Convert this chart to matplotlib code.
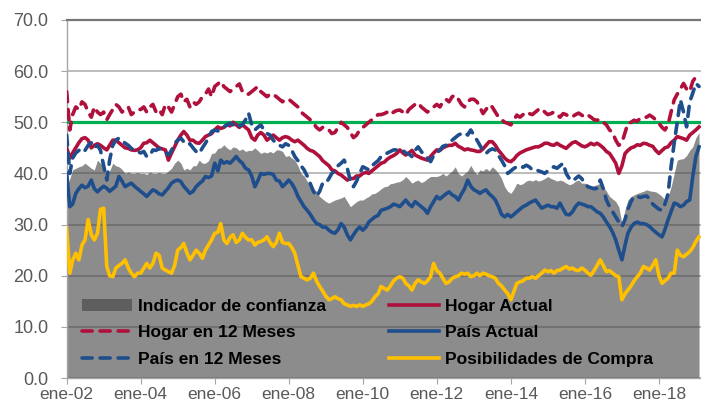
import matplotlib
matplotlib.use("Agg")
import matplotlib.pyplot as plt
import matplotlib.dates as mdates
from matplotlib.patches import Patch
from matplotlib.lines import Line2D
import pandas as pd

plt.rcParams['font.family'] = ['Liberation Sans', 'DejaVu Sans']

# monthly, ene-02 .. feb-19
meses = pd.date_range('2002-01-01', periods=206, freq='MS')

indicador = [
    37.4, 39.0, 40.7, 41.0, 41.3, 41.5, 42.0, 41.5, 41.0, 40.7, 42.6, 42.0,
    41.0, 39.7, 40.5, 42.0, 41.5, 41.3, 40.8, 40.0, 40.3, 40.0, 40.0, 40.2,
    40.0, 40.0, 39.8, 40.3, 40.0, 40.0, 40.2, 40.0, 40.0, 40.5, 41.0, 42.0,
    42.6, 42.0, 40.7, 41.0, 40.7, 41.5, 41.5, 42.6, 42.0, 42.0, 42.5, 43.9,
    44.0, 44.9, 45.0, 45.6, 45.0, 44.6, 45.2, 45.0, 44.5, 44.8, 44.3, 44.5,
    44.5, 45.0, 44.5, 43.9, 44.2, 44.0, 44.3, 44.0, 44.6, 44.6, 44.3, 43.3,
    43.5, 43.0, 42.6, 41.5, 40.0, 39.5, 38.5, 37.4, 37.0, 36.5, 35.5, 35.0,
    34.5, 34.2, 34.5, 34.8, 35.0, 35.2, 35.5, 34.5, 33.5, 34.0, 34.5, 34.8,
    34.8, 35.2, 35.5, 36.0, 36.1, 36.5, 37.0, 37.4, 37.5, 38.0, 38.1, 38.3,
    38.4, 38.8, 39.4, 38.8, 38.1, 38.5, 38.7, 38.2, 38.5, 39.0, 39.4, 39.4,
    39.4, 39.6, 40.0, 39.5, 40.0, 40.5, 41.3, 40.0, 39.5, 40.0, 40.5, 41.6,
    40.5, 39.8, 40.7, 40.5, 41.0, 40.5, 41.3, 40.8, 40.0, 39.0, 37.4, 36.5,
    36.1, 37.0, 38.1, 37.8, 38.0, 38.5, 38.7, 38.5, 38.8, 38.5, 38.7, 39.0,
    39.4, 39.0, 38.8, 38.5, 38.7, 38.5, 38.1, 37.8, 38.0, 38.5, 38.7, 38.1,
    38.1, 37.8, 37.4, 37.6, 37.8, 38.1, 37.5, 36.5, 35.5, 35.0, 34.5, 33.5,
    30.2, 33.0, 34.8, 35.5, 35.8, 36.1, 36.3, 36.5, 36.8, 36.6, 36.5, 36.4,
    36.0, 35.5, 34.8, 35.5, 37.4, 40.0, 42.6, 42.8, 42.9, 43.5, 44.5, 45.2,
    47.0, 48.0,
]

hogar_12m = [
    56.0, 48.5, 51.5, 53.0, 52.5, 54.0, 53.5, 52.0, 51.0, 53.0, 52.0, 51.5,
    52.0, 50.5, 51.5, 52.5, 53.5, 53.0, 52.0, 52.5, 53.0, 51.5, 52.0, 52.5,
    52.5, 53.0, 52.0, 53.0, 53.5, 52.0, 52.5, 51.5, 53.5, 53.0, 52.0, 53.5,
    55.0, 55.5, 54.0, 54.5, 53.0, 54.0, 53.5, 54.0, 55.0, 55.5, 56.5, 55.0,
    57.0, 57.5, 58.0, 57.0, 56.5, 56.0, 56.5, 57.0, 57.5, 56.0, 55.5, 55.5,
    56.0, 56.5, 57.0, 56.0, 55.5, 55.0, 55.5, 55.5, 55.0, 54.5, 54.0, 54.5,
    54.5, 54.0, 53.5, 53.0, 52.0, 51.5, 51.0, 50.5, 49.8, 49.0, 48.5, 49.0,
    49.0, 48.5, 47.8, 48.0, 49.0, 50.0, 49.5, 49.0, 48.0, 47.0, 47.5, 48.5,
    49.0, 49.5, 50.0, 50.5, 51.0, 51.5, 51.5, 51.7, 52.0, 51.5, 52.0, 52.3,
    52.4, 52.0, 51.5, 52.5, 53.0, 53.5, 53.8, 53.0, 52.5, 52.0, 52.5, 53.0,
    53.5, 53.0, 54.0, 54.5, 54.0, 55.0, 55.3, 54.5, 53.5, 53.0, 54.0, 54.5,
    54.5, 54.0, 53.0, 51.7, 52.5, 53.4, 53.0, 52.0, 51.0, 50.5, 50.0, 49.8,
    49.5, 50.5, 51.4, 51.0, 51.5, 52.0, 51.7, 51.5, 52.0, 52.5, 52.7, 52.0,
    51.5, 51.7, 52.0, 51.5, 51.0, 51.7, 51.5, 51.0, 51.1, 51.5, 51.8, 51.4,
    51.0, 51.4, 51.0, 50.5, 50.4, 50.6, 50.0, 49.5, 48.5, 48.0, 46.5, 45.5,
    46.0, 48.0, 49.8, 50.0, 50.4, 50.2, 50.8, 51.0, 51.0, 51.4, 51.0, 50.5,
    49.8, 49.0, 48.5, 49.5, 52.0, 54.4, 55.5, 56.5, 57.6, 56.5, 56.0, 58.0,
    58.9, 59.6,
]

pais_12m = [
    47.5, 40.0, 43.0, 44.0, 44.5, 45.0, 44.5, 45.5, 46.0, 45.0, 45.5, 44.5,
    41.5, 38.7, 42.6, 45.5, 46.5, 46.9, 46.5, 45.9, 45.5, 44.9, 44.5, 44.3,
    44.0, 44.3, 43.3, 43.5, 44.6, 44.5, 44.9, 44.5, 44.2, 43.6, 44.5, 45.9,
    46.5, 46.9, 46.2, 45.6, 45.8, 45.0, 44.3, 43.9, 45.0, 45.9, 47.0, 48.2,
    48.5, 48.3, 48.8, 49.1, 49.5, 49.8, 49.5, 50.0, 49.3, 49.5, 50.5, 51.8,
    49.5, 48.5, 49.0, 49.5, 48.5, 47.8, 47.5, 46.5, 45.9, 45.5, 45.2, 45.8,
    45.5, 44.5, 43.3, 42.5, 41.5, 40.7, 39.5, 38.0, 36.5, 35.5, 36.5, 38.1,
    38.1, 39.0, 40.0, 40.5, 41.5, 42.0, 42.6, 41.0, 38.5, 37.4, 38.5, 40.0,
    41.3, 41.0, 40.7, 41.5, 42.0, 42.5, 43.3, 43.5, 44.0, 44.3, 44.6, 44.6,
    44.6, 44.5, 44.0, 43.8, 43.3, 44.5, 45.2, 44.3, 43.5, 43.0, 42.3, 43.5,
    44.0, 44.6, 45.3, 45.5, 46.2, 46.5, 47.0, 47.5, 47.8, 48.0, 47.5, 48.5,
    47.5, 46.5, 45.5, 44.5, 43.9, 44.5, 44.8, 44.6, 43.5, 42.6, 41.5, 40.0,
    40.5, 41.0, 41.3, 41.5, 41.2, 41.6, 41.3, 40.7, 40.8, 40.5, 40.3, 40.0,
    40.5, 41.0, 41.3, 41.0, 41.5, 42.0, 40.0, 39.0, 38.5, 39.0, 39.5, 39.0,
    38.0, 37.4, 37.2, 37.0, 37.1, 38.7, 37.0, 34.8, 33.5, 32.5, 31.5, 30.5,
    29.6, 31.0, 33.0, 34.5, 35.5, 35.5, 35.3, 35.5, 35.6, 35.0, 34.0, 33.5,
    33.0, 32.8, 34.0, 36.0, 41.3, 46.0, 50.0, 54.4, 52.0, 49.1, 54.0, 55.7,
    57.6, 57.0,
]

hogar_actual = [
    45.0, 43.0, 44.0, 45.0, 46.0, 46.8, 47.0, 46.5, 45.0, 45.5, 45.8, 45.5,
    45.0, 44.6, 45.5, 46.5, 46.5, 46.0, 45.5, 45.0, 44.9, 44.6, 44.5, 44.6,
    45.0, 45.9, 46.0, 46.5, 46.0, 45.5, 45.0, 44.8, 44.6, 42.6, 44.0, 45.2,
    46.5, 47.5, 48.2, 47.5, 46.5, 46.5, 46.0, 45.9, 46.5, 47.2, 47.5, 47.8,
    48.5, 49.1, 48.8, 49.0, 49.5, 49.3, 50.0, 49.5, 49.0, 49.5, 49.0, 48.5,
    47.0, 46.5, 47.5, 48.0, 47.5, 46.5, 47.0, 47.5, 47.0, 46.5, 47.0, 47.2,
    47.0, 46.5, 46.2, 46.5, 46.0, 45.5, 44.9, 44.5, 44.3, 43.8, 43.3, 42.5,
    42.0, 41.5, 40.7, 40.5, 40.0, 39.7, 39.2, 38.7, 39.0, 39.0, 39.5, 39.5,
    40.0, 40.2, 40.0, 40.5, 41.0, 41.5, 42.0, 42.2, 42.8, 43.2, 43.5, 43.9,
    44.6, 44.0, 43.6, 44.0, 44.5, 43.6, 43.3, 43.0, 42.8, 42.6, 43.3, 44.0,
    44.6, 44.5, 45.0, 45.3, 45.5, 45.5, 45.9, 45.3, 45.0, 44.6, 44.8, 44.6,
    44.5, 44.3, 44.3, 44.8, 45.5, 46.2, 46.2, 45.5, 44.5, 43.8, 43.0, 42.5,
    42.3, 42.8, 43.5, 44.0, 44.3, 44.6, 44.8, 45.0, 45.2, 45.2, 45.5, 45.9,
    45.9, 45.6, 45.5, 45.9, 45.5, 45.2, 44.9, 45.5, 46.0, 46.2, 45.8, 45.4,
    45.2, 45.5, 45.9, 45.6, 45.9, 45.5, 45.0, 44.3, 43.9, 43.0, 42.0, 40.0,
    41.5, 43.9, 44.5, 45.0, 45.2, 45.6, 45.5, 45.9, 45.8, 45.5, 45.3, 44.5,
    43.9, 44.5, 45.0, 45.2, 46.0, 46.5, 47.2, 47.0, 46.8, 46.5, 47.5, 48.0,
    48.5, 49.1,
]

pais_actual = [
    40.0, 33.5, 34.0, 36.1, 37.0, 37.7, 37.2, 37.5, 38.7, 37.0, 36.4, 37.0,
    37.5, 37.1, 36.5, 37.0, 37.5, 39.4, 38.5, 37.4, 37.8, 38.1, 37.5, 37.0,
    36.5, 36.0, 35.5, 36.2, 36.8, 36.5, 36.0, 35.8, 36.5, 37.2, 38.1, 38.5,
    38.7, 38.4, 37.5, 36.8, 36.1, 36.5, 37.4, 38.0, 38.5, 39.4, 39.2, 39.5,
    42.0, 40.5, 42.6, 42.0, 42.3, 42.0, 42.6, 43.3, 42.5, 42.0, 41.0, 40.7,
    39.5, 37.4, 38.5, 40.0, 39.8, 40.0, 40.0, 39.8, 38.7, 38.5, 37.4, 38.0,
    38.7, 38.0, 37.0, 35.5, 34.5, 33.5, 32.8, 32.0, 31.0, 30.2, 30.0, 29.5,
    29.5, 28.9, 28.5, 28.3, 29.0, 30.2, 29.5, 28.0, 27.0, 28.0, 28.9, 29.5,
    28.9, 29.5, 30.5, 31.0, 31.5, 31.8, 32.8, 33.0, 33.2, 33.5, 34.0, 33.8,
    33.5, 34.2, 34.8, 34.0, 33.5, 34.5, 34.0, 33.5, 33.0, 32.2, 33.5, 34.5,
    35.5, 35.0, 35.5, 36.0, 36.4, 35.8, 35.5, 34.8, 36.0, 37.0, 38.7, 37.5,
    36.8, 36.5, 36.1, 36.5, 36.8, 36.0, 35.5, 34.8, 33.5, 32.0, 31.5, 32.0,
    31.5, 32.0, 32.5, 33.0, 33.5, 33.8, 34.2, 34.5, 34.8, 34.0, 33.2, 33.5,
    33.8, 33.5, 33.5, 33.2, 34.2, 33.0, 32.0, 31.9, 32.5, 33.5, 34.2, 34.0,
    33.8, 33.5, 33.5, 33.0, 32.5, 32.2, 31.5, 30.5, 29.6, 28.5, 27.0, 25.0,
    23.1, 26.0, 28.3, 29.5, 30.2, 30.5, 30.2, 30.2, 30.0, 29.6, 29.0, 28.5,
    28.0, 27.6, 29.0, 30.9, 32.5, 34.2, 34.0, 33.5, 33.8, 34.5, 34.8, 39.4,
    43.3, 45.2,
]

posib_compra = [
    29.3, 20.5, 23.0, 24.4, 23.1, 26.0, 27.0, 31.0, 28.0, 27.0, 28.3, 33.0,
    33.2, 21.8, 20.0, 19.8, 21.5, 22.0, 22.4, 23.1, 21.5, 20.5, 19.8, 20.5,
    20.5, 21.5, 22.4, 21.5, 22.4, 24.4, 24.0, 21.5, 21.1, 20.8, 20.5, 22.0,
    25.0, 25.5, 26.3, 24.5, 23.1, 24.0, 25.0, 24.4, 23.4, 25.0, 26.0, 27.0,
    28.3, 28.5, 30.2, 27.0, 26.3, 27.5, 28.0, 26.5, 27.0, 28.3, 27.5, 27.0,
    27.0, 26.0, 26.5, 26.7, 27.0, 27.6, 26.5, 25.7, 26.5, 28.3, 26.5, 26.3,
    26.3, 25.5, 24.4, 22.0, 19.8, 19.5, 19.2, 19.5, 20.5, 19.0, 17.9, 17.0,
    16.0, 15.3, 15.5, 15.9, 15.5, 15.3, 14.5, 14.3, 14.0, 14.2, 14.0, 14.3,
    14.0, 14.3, 14.5, 15.0, 15.9, 16.5, 17.9, 17.5, 17.2, 18.0, 19.0, 19.5,
    19.8, 19.5, 18.5, 18.0, 17.2, 18.5, 19.2, 18.8, 18.5, 19.0, 19.8, 22.4,
    21.0, 20.5, 19.5, 18.5, 18.8, 19.5, 19.8, 20.0, 20.5, 20.3, 20.5, 19.8,
    20.0, 20.5, 20.0, 20.5, 20.3, 20.0, 19.8, 19.5, 18.5, 18.0, 17.2, 16.5,
    15.3, 17.0, 18.5, 18.8, 19.0, 19.5, 19.5, 19.8, 19.5, 20.0, 20.5, 21.1,
    20.8, 21.0, 20.5, 21.0, 21.1, 21.5, 21.8, 21.3, 21.5, 21.1, 21.0, 21.5,
    21.1, 20.5, 20.1, 21.0, 22.0, 23.1, 22.0, 20.8, 21.0, 20.5, 20.0, 19.8,
    15.3, 16.5, 17.2, 18.0, 19.0, 19.8, 20.5, 21.8, 21.5, 21.1, 22.0, 23.1,
    20.0, 18.5, 19.0, 19.5, 20.5, 20.5, 25.0, 24.0, 23.7, 24.2, 24.7, 25.5,
    26.7, 27.6,
]

umbral = 50.0

ROJO = '#b0103c'
AZUL = '#1f4e8c'
AMARILLO = '#ffc000'
VERDE = '#00b050'
GRIS_TXT = '#595959'

fig = plt.figure(figsize=(7.01, 4.08), dpi=100)
ax = fig.add_axes([0.0951, 0.0735, 0.905, 0.8775])

ax.fill_between(meses, 0, indicador, color='#404040', alpha=0.6, lw=0, zorder=2)
ax.axhline(umbral, color=VERDE, lw=2.3, zorder=3)

lw = 2.6
dash = (2.8, 2.2)
ax.plot(meses, posib_compra, color=AMARILLO, lw=lw, zorder=4)
ax.plot(meses, pais_actual, color=AZUL, lw=lw, zorder=4)
ax.plot(meses, hogar_actual, color=ROJO, lw=lw, zorder=4)
ax.plot(meses, pais_12m, color=AZUL, lw=lw, ls=(0, dash), dash_capstyle='round', zorder=4)
ax.plot(meses, hogar_12m, color=ROJO, lw=lw, ls=(0, dash), dash_capstyle='round', zorder=4)

ax.set_ylim(0, 70)
ax.set_yticks(range(0, 71, 10))
ax.yaxis.set_major_formatter(plt.FuncFormatter(lambda v, p: f'{v:.1f}'))
ax.set_xlim(meses[0], pd.Timestamp('2019-02-21'))
ax.xaxis.set_major_locator(mdates.YearLocator(2))
ax.xaxis.set_major_formatter(plt.FuncFormatter(
    lambda v, p: 'ene-%02d' % (mdates.num2date(v).year % 100)))

ax.grid(axis='y', color='#b0b0b0', lw=1.2, zorder=1)
ax.set_axisbelow(True)
for s in ('left', 'bottom'):
    ax.spines[s].set_color('#a6a6a6')
    ax.spines[s].set_linewidth(1.0)
ax.spines['right'].set_visible(False)
ax.spines['top'].set_color('#767676')
ax.spines['top'].set_linewidth(1.6)
ax.tick_params(colors='#a6a6a6', labelcolor=GRIS_TXT, labelsize=13, length=4)
ax.tick_params(axis='y', pad=9)
ax.tick_params(axis='x', pad=2.5, labelsize=12.5)

handles = [
    Patch(facecolor='#404040', alpha=0.6, lw=0),
    Line2D([], [], color=ROJO, lw=lw, ls=(0, dash), dash_capstyle='round'),
    Line2D([], [], color=AZUL, lw=lw, ls=(0, dash), dash_capstyle='round'),
    Line2D([], [], color=ROJO, lw=lw),
    Line2D([], [], color=AZUL, lw=lw),
    Line2D([], [], color=AMARILLO, lw=lw),
]
labels = ['Indicador de confianza', 'Hogar en 12 Meses', 'País en 12 Meses',
          'Hogar Actual', 'País Actual', 'Posibilidades de Compra']
ax.legend(handles, labels, ncol=2, frameon=False, loc='upper left',
          bbox_to_anchor=(0.024, 0.222), borderpad=0, borderaxespad=0,
          handlelength=2.9, handletextpad=0.35, columnspacing=3.6,
          labelspacing=0.66, prop={'weight': 'bold', 'size': 12.5})

fig.savefig('out.png', dpi=100)
